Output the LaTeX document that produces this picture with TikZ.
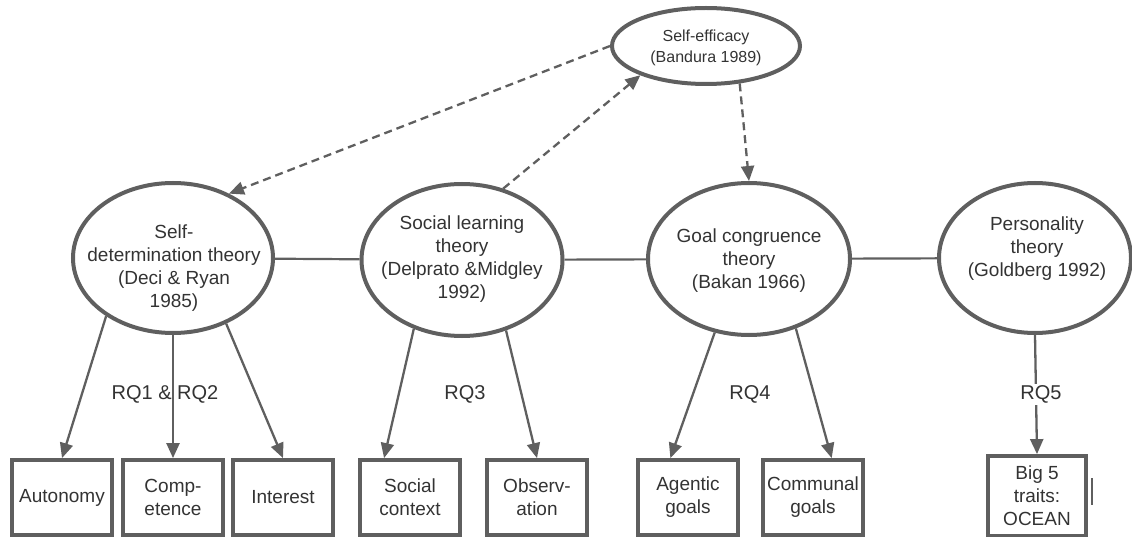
\documentclass[tikz,border=0pt]{standalone}
\usepackage{fontspec}
\setmainfont{Liberation Sans}
\usetikzlibrary{shapes.geometric,arrows.meta,calc}
\definecolor{ln}{HTML}{5F5F5F}
\definecolor{tx}{HTML}{333333}
\begin{document}
\begin{tikzpicture}[x=1pt,y=-1pt,
 ell/.style={ellipse, draw=ln, line width=4pt, inner sep=0pt},
 etxt/.style={align=center, text=tx, inner sep=0pt, font=\fontsize{19}{23}\selectfont},
 box/.style={rectangle, draw=ln, line width=3.8pt, minimum width=100pt, minimum height=75pt, inner sep=0pt, align=center, text=tx, font=\fontsize{19}{23}\selectfont},
 arr/.style={draw=ln, line width=2.3pt, -{Triangle[length=15pt,width=13pt]}},
 darr/.style={arr, dash pattern=on 8pt off 5pt},
 link/.style={draw=ln, line width=2.2pt},
 rq/.style={text=tx, font=\fontsize{20}{24}\selectfont, inner sep=2pt}]
\useasboundingbox (0,0) rectangle (1132,537);

% ellipses
\node[ell, minimum width=188pt, minimum height=76pt] (se) at (706,46) {};
\node[etxt, font=\fontsize{16}{21}\selectfont] (se-t) at (706,48) {Self-efficacy\\(Bandura 1989)};
\node[ell, minimum width=200pt, minimum height=150pt] (sdt) at (173,258) {};
\node[etxt] (sdt-t) at (174,268) {Self-\\determination theory\\(Deci \& Ryan\\1985)};
\node[ell, minimum width=201pt, minimum height=152pt] (slt) at (462,260) {};
\node[etxt] (slt-t) at (462,259) {Social learning\\theory\\(Delprato \&Midgley\\1992)};
\node[ell, minimum width=202pt, minimum height=152pt] (gct) at (749,259) {};
\node[etxt] (gct-t) at (749,261) {Goal congruence\\theory\\(Bakan 1966)};
\node[ell, minimum width=192pt, minimum height=150pt] (pt) at (1035,258) {};
\node[etxt] (pt-t) at (1037,249) {Personality\\theory\\(Goldberg 1992)};

% boxes
\node[box] (auto) at (62,497.5) {Autonomy};
\node[box] (comp) at (173,497.5) {Comp-\\etence};
\node[box] (inte) at (283,497.5) {Interest};
\node[box] (soc) at (410,497.5) {Social\\context};
\node[box] (obs) at (537,497.5) {Observ-\\ation};
\node[box] (agen) at (688,497.5) {Agentic\\goals};
\node[box] (comm) at (813,497.5) {Communal\\goals};
\node[box, minimum height=80pt, minimum width=98pt] (big5) at (1037,496) {Big 5\\traits:\\OCEAN};
\coordinate (tickA) at (1092,478);
\coordinate (tickB) at (1092,505);
\draw[link] (tickA) -- (tickB);

% horizontal links
\draw[link] (sdt) -- (slt);
\draw[link] (slt) -- (gct);
\draw[link] (gct) -- (pt);

% dashed arrows
\draw[darr] (se.west) -- (sdt.49);
\draw[darr] (slt.60) -- (se.204);
\draw[darr] (se.312) -- (gct.north);

% RQ arrows
\draw[arr] (sdt.221) -- (auto.north);
\draw[arr] (sdt.south) -- (comp.north);
\draw[arr] (sdt.309) -- (inte.north);
\draw[arr] (slt.235) -- ($(soc.north west)!0.25!(soc.north east)$);
\draw[arr] (slt.302) -- (obs.north);
\draw[arr] (gct.245) -- ($(agen.north west)!0.33!(agen.north east)$);
\draw[arr] (gct.304) -- ($(comm.north west)!0.68!(comm.north east)$);
\draw[arr] (pt.south) -- node[rq, fill=white, xshift=5pt] (rq5) {RQ5} (big5.north);

\node[rq] (rq12) at (165,394) {RQ1 \& RQ2};
\node[rq] (rq3) at (465,394) {RQ3};
\node[rq] (rq4) at (750,394) {RQ4};
\end{tikzpicture}
\end{document}
